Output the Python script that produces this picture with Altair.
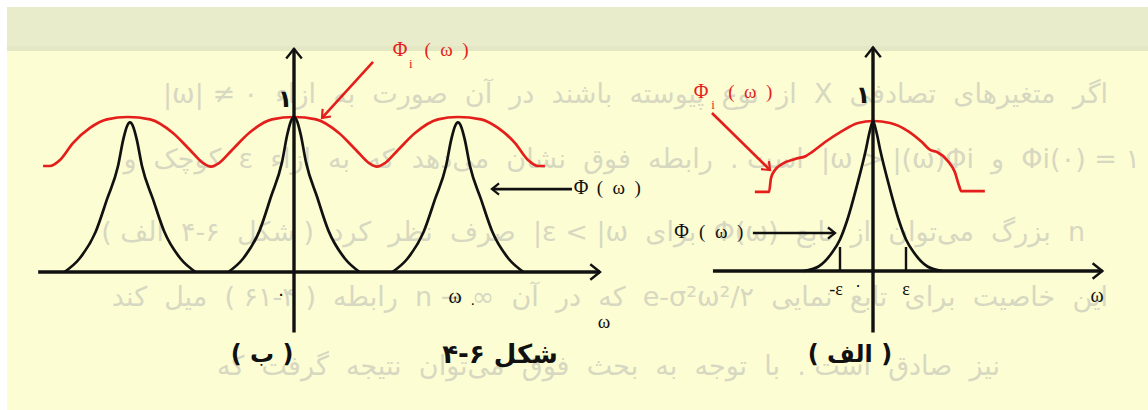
import math
import altair as alt
import pandas as pd

W, H = 1148, 410
RED = "#e41e1b"
INK = "#111111"
GHOST = "#d7d8c1"

# Two sub-figures on one sheet: origin in sheet pixels and pixels per unit.
PANELS = {
    "b": {"ox": 294, "oy": 272, "ux": 164, "uy": 155},  # ( ب ): ω measured in ω0
    "a": {"ox": 873, "oy": 271, "ux": 33, "uy": 150},   # ( الف ): ω measured in ε
}

# ---------------- panel ( ب ) : periodic case ----------------
B_PEAK_CENTERS = [-1.0, 0.0, 1.0]
B_PEAK_HEIGHTS = [0.965, 1.0, 0.965]
B_PEAK_W = [-0.40, -0.31, -0.21, -0.14, -0.073, -0.041, -0.02, 0.0,
            0.02, 0.041, 0.073, 0.14, 0.21, 0.31, 0.40]
B_PEAK_V = [0.0, 0.087, 0.267, 0.487, 0.709, 0.887, 0.97, 1.0,
            0.97, 0.887, 0.709, 0.487, 0.267, 0.087, 0.0]

B_RED_W = [-1.53, -1.488, -1.427, -1.348, -1.244, -1.140, -1.014, -0.878, -0.738,
           -0.634, -0.555, -0.506, -0.457, -0.378, -0.274, -0.134, 0.0,
           0.134, 0.274, 0.378, 0.457, 0.506, 0.555, 0.634, 0.738, 0.878,
           1.0, 1.140, 1.244, 1.348, 1.427, 1.488, 1.53]
B_RED_V = [0.684, 0.684, 0.723, 0.832, 0.93, 0.985, 1.0, 0.985, 0.897,
           0.787, 0.703, 0.68, 0.703, 0.787, 0.897, 0.985, 1.0,
           0.985, 0.897, 0.787, 0.703, 0.68, 0.703, 0.787, 0.897, 0.985,
           1.0, 0.985, 0.93, 0.832, 0.723, 0.684, 0.684]

# ---------------- panel ( الف ) : single peak ----------------
A_PEAK_W = [-2.1, -1.65, -1.25, -1.0, -0.78, -0.48, -0.225, -0.1, 0.0,
            0.1, 0.225, 0.48, 0.78, 1.0, 1.25, 1.65, 2.1]
A_PEAK_V = [0.0, 0.03, 0.12, 0.21, 0.34, 0.575, 0.80, 0.93, 1.0,
            0.93, 0.80, 0.575, 0.34, 0.21, 0.12, 0.03, 0.0]

A_RED_W = [-3.58, -3.15, -3.09, -2.97, -2.76, -2.36, -2.03, -1.85, -1.45, -0.94,
           -0.45, 0.0, 0.52, 1.06, 1.48, 1.73, 1.94, 2.27, 2.48, 2.61, 2.67, 3.39]
A_RED_V = [0.527, 0.527, 0.62, 0.673, 0.713, 0.747, 0.767, 0.793, 0.86, 0.933,
           0.987, 1.0, 0.987, 0.933, 0.86, 0.807, 0.793, 0.733, 0.66, 0.567, 0.533, 0.533]

# axes (arrow at the far end) and the ±ε ticks
AXES = [
    ("b", -1.56, 0.0, 1.866, 0.0),
    ("b", 0.0, -0.39, 0.0, 1.44),
    ("a", -4.85, 0.0, 6.95, 0.0),
    ("a", 0.0, -0.41, 0.0, 1.49),
]
TICKS = [("a", -1.0, 0.0, -1.0, 0.16), ("a", 1.0, 0.0, 1.0, 0.16)]

# pointer arrows to the curves
POINTERS = [
    ("b", 0.482, 1.355, 0.171, 0.994, RED),
    ("b", 1.695, 0.535, 1.207, 0.535, INK),
    ("a", -4.88, 1.053, -3.12, 0.673, RED),
    ("a", -3.64, 0.253, -1.15, 0.253, INK),
]

# labels: (panel, w, v, text, size, colour, style)
LABELS = [
    ("b", -0.055, 1.11, "۱", 24, INK, "bold"),
    ("b", 0.646, 1.432, "Φ", 20, RED, "serif"),
    ("b", 0.713, 1.342, "i", 13, RED, "serif"),
    ("b", 0.93, 1.432, "(  ω  )", 19, RED, "serif"),
    ("b", 1.75, 0.542, "Φ", 20, INK, "serif"),
    ("b", 1.98, 0.542, "(  ω  )", 19, INK, "serif"),
    ("b", -0.079, -0.148, "۰", 18, INK, "sans"),
    ("b", 0.982, -0.161, "ω", 20, INK, "serif"),
    ("b", 1.09, -0.206, "۰", 14, INK, "sans"),
    ("b", 1.89, -0.323, "ω", 19, INK, "serif"),
    ("b", -0.195, -0.535, "( ب )", 24, INK, "bold"),
    ("b", 1.256, -0.535, "شکل ۶-۴", 26, INK, "bold"),
    ("a", -0.303, 1.167, "۱", 24, INK, "bold"),
    ("a", -5.21, 1.193, "Φ", 20, RED, "serif"),
    ("a", -4.85, 1.107, "i", 13, RED, "serif"),
    ("a", -3.72, 1.193, "(  ω  )", 19, RED, "serif"),
    ("a", -5.8, 0.26, "Φ", 20, INK, "serif"),
    ("a", -4.6, 0.26, "(  ω  )", 19, INK, "serif"),
    ("a", -1.12, -0.127, "-ε", 18, INK, "serif"),
    ("a", 1.0, -0.127, "ε", 18, INK, "serif"),
    ("a", -0.45, -0.1, "۰", 16, INK, "sans"),
    ("a", 6.79, -0.167, "ω", 20, INK, "serif"),
    ("a", -0.70, -0.56, "( الف )", 24, INK, "bold"),
]

# page text printed underneath the figure (justified lines: wide word gaps)
PAGE_LINES = [
    "اگر  متغیرهای  تصادفی  X  از  نوع  پیوسته  باشند  در  آن  صورت  به  ازاء  ۰ ≠ |ω|",
    "۱ = (۰)Φi  و  ω > |(ω)Φi|  است .  رابطه  فوق  نشان  می‌دهد  که  به  ازاء  ε  کوچک  و",
    "n  بزرگ  می‌توان  از  تابع  (ω)Φ  برای  ε < |ω|  صرف  نظر  کرد  ( شکل  ۶-۴  الف )",
    "این  خاصیت  برای  تابع  نمایی  e-σ²ω²/۲  که  در  آن  ∞ → n  رابطه  ( ۴-۶۱ )  میل  کند",
    "نیز  صادق  است .  با  توجه  به  بحث  فوق  می‌توان  نتیجه  گرفت  که",
]
PAGE_Y = [95, 160, 233, 298, 367]
PAGE_RIGHT = [1108, 1140, 1085, 1108, 1000]

# sheet: white margin, grey-green header band, pale yellow page
SHEET = [
    {"x": 7, "x2": W, "y": 7, "y2": 47, "fill": "#e8ecca"},
    {"x": 7, "x2": W, "y": 46, "y2": 51, "fill": "#e3e7c4"},
    {"x": 7, "x2": W, "y": 51, "y2": H, "fill": "#fdfdd3"},
]

XS = alt.Scale(domain=[0, W], nice=False, zero=False)
YS = alt.Scale(domain=[0, H], nice=False, zero=False, reverse=True)


def expr(axis):
    a, b = PANELS["a"], PANELS["b"]
    if axis == "x":
        return (f"datum.panel == 'a' ? {a['ox']} + {a['ux']} * datum.w"
                f" : {b['ox']} + {b['ux']} * datum.w")
    return (f"datum.panel == 'a' ? {a['oy']} - {a['uy']} * datum.v"
            f" : {b['oy']} - {b['uy']} * datum.v")


def on_sheet(chart):
    return chart.transform_calculate(px=expr("x"), py=expr("y")).encode(
        x=alt.X("px:Q", scale=XS, axis=None),
        y=alt.Y("py:Q", scale=YS, axis=None),
    )


def to_px(panel, w, v):
    p = PANELS[panel]
    return p["ox"] + p["ux"] * w, p["oy"] - p["uy"] * v


def keep_gaps(s):
    # SVG collapses runs of spaces, so wide gaps use a no-break space
    return s.replace("  ", " \u00a0")


# ---- tables ----
curve_rows = []
for i, (c, h) in enumerate(zip(B_PEAK_CENTERS, B_PEAK_HEIGHTS)):
    for k, (dw, v) in enumerate(zip(B_PEAK_W, B_PEAK_V)):
        curve_rows.append({"panel": "b", "curve": f"b{i}", "k": k, "w": c + dw, "v": h * v})
for k, (w, v) in enumerate(zip(A_PEAK_W, A_PEAK_V)):
    curve_rows.append({"panel": "a", "curve": "a0", "k": k, "w": w, "v": v})
black_curves = pd.DataFrame(curve_rows)

red_rows = []
for k, (w, v) in enumerate(zip(B_RED_W, B_RED_V)):
    red_rows.append({"panel": "b", "curve": "rb", "k": k, "w": w, "v": v})
for k, (w, v) in enumerate(zip(A_RED_W, A_RED_V)):
    red_rows.append({"panel": "a", "curve": "ra", "k": k, "w": w, "v": v})
red_curves = pd.DataFrame(red_rows)


def segments(items, tag):
    rows, heads = [], []
    for i, it in enumerate(items):
        panel, w0, v0, w1, v1 = it[:5]
        col = it[5] if len(it) > 5 else INK
        rows.append({"panel": panel, "seg": f"{tag}{i}", "k": 0, "w": w0, "v": v0, "col": col})
        rows.append({"panel": panel, "seg": f"{tag}{i}", "k": 1, "w": w1, "v": v1, "col": col})
        x0, y0 = to_px(panel, w0, v0)
        x1, y1 = to_px(panel, w1, v1)
        ang = math.degrees(math.atan2(y1 - y0, x1 - x0)) % 360
        heads.append({"panel": panel, "w": w1, "v": v1, "ang": ang, "col": col})
    return pd.DataFrame(rows), pd.DataFrame(heads)


axes_df, axes_heads = segments(AXES, "ax")
ticks_df, _ = segments(TICKS, "tk")
ptr_df, ptr_heads = segments(POINTERS, "pt")

labels = pd.DataFrame(LABELS, columns=["panel", "w", "v", "text", "size", "col", "style"])
labels["text"] = labels["text"].map(keep_gaps)
page = pd.DataFrame({
    "text": ["\u202b" + keep_gaps(s) + "\u202c" for s in PAGE_LINES],
    "x": PAGE_RIGHT, "y": PAGE_Y,
})
sheet = pd.DataFrame(SHEET)

CHEVRON = "M-1,-0.8L0,0L-1,0.8"

# ---- layers ----
bg = alt.Chart(sheet).mark_rect().encode(
    x=alt.X("x:Q", scale=XS, axis=None), x2="x2:Q",
    y=alt.Y("y:Q", scale=YS, axis=None), y2="y2:Q",
    color=alt.Color("fill:N", scale=None),
)

page_text = alt.Chart(page).mark_text(
    align="right", baseline="middle", font="DejaVu Sans", fontSize=27, color=GHOST
).encode(
    x=alt.X("x:Q", scale=XS, axis=None),
    y=alt.Y("y:Q", scale=YS, axis=None),
    text="text:N",
)

black = on_sheet(alt.Chart(black_curves).mark_line(
    interpolate="monotone", color=INK, strokeWidth=2.7)).encode(
    detail="curve:N", order="k:Q")

red = on_sheet(alt.Chart(red_curves).mark_line(
    interpolate="monotone", color=RED, strokeWidth=2.7)).encode(
    detail="curve:N", order="k:Q")

axes = on_sheet(alt.Chart(axes_df).mark_line(color=INK, strokeWidth=3.4)).encode(
    detail="seg:N", order="k:Q")
ticks = on_sheet(alt.Chart(ticks_df).mark_line(color=INK, strokeWidth=2.4)).encode(
    detail="seg:N", order="k:Q")
ptrs = on_sheet(alt.Chart(ptr_df).mark_line(strokeWidth=2.6)).encode(
    detail="seg:N", order="k:Q", color=alt.Color("col:N", scale=None))

axis_tips = on_sheet(alt.Chart(axes_heads).mark_point(
    shape=CHEVRON, filled=False, size=380, strokeWidth=2.4, opacity=1)).encode(
    angle=alt.Angle("ang:Q", scale=None), color=alt.Color("col:N", scale=None))
ptr_tips = on_sheet(alt.Chart(ptr_heads).mark_point(
    shape=CHEVRON, filled=False, size=200, strokeWidth=2.2, opacity=1)).encode(
    angle=alt.Angle("ang:Q", scale=None), color=alt.Color("col:N", scale=None))


def text_layer(style, font, weight):
    return on_sheet(alt.Chart(labels).transform_filter(
        f"datum.style == '{style}'").mark_text(
        align="center", baseline="middle", font=font, fontWeight=weight)).encode(
        text="text:N",
        size=alt.Size("size:Q", scale=None),
        color=alt.Color("col:N", scale=None),
    )


serif_text = text_layer("serif", "Liberation Serif", "normal")
sans_text = text_layer("sans", "DejaVu Sans", "normal")
bold_text = text_layer("bold", "DejaVu Sans", "bold")

chart = alt.layer(
    bg, page_text, red, black, axes, ticks, ptrs, axis_tips, ptr_tips,
    serif_text, sans_text, bold_text,
).properties(
    width=W, height=H, padding=0,
    autosize=alt.AutoSizeParams(type="none"),
    background="white",
).configure_view(strokeWidth=0)

chart.save("out.html", embed_options={"renderer": "svg", "actions": False})
